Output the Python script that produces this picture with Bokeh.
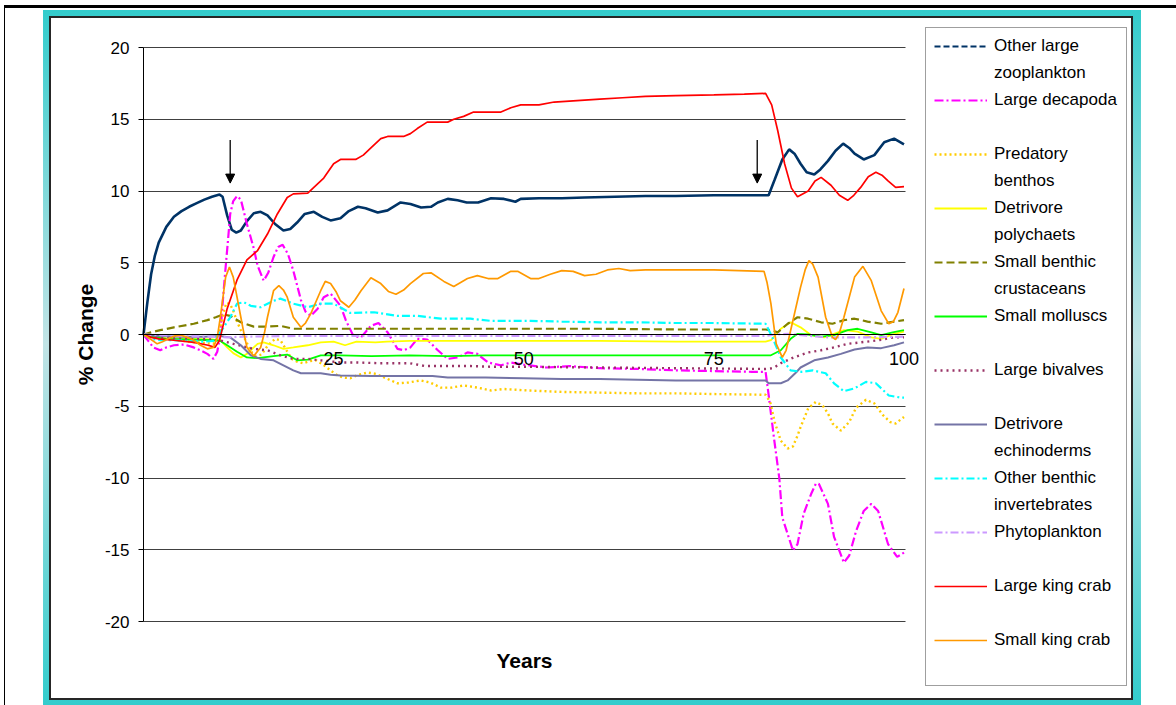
from bokeh.plotting import figure
from bokeh.models import (Range1d, LinearAxis, FixedTicker, Legend, LegendItem, Grid,
                          Arrow, NormalHead, InlineStyleSheet)
from bokeh.embed import file_html
from bokeh.resources import INLINE

# ---------------- data (years, % change) ----------------
zoo_years = [0, 0.5, 1, 1.5, 2, 3, 4, 5, 6, 7, 8, 9, 10, 10.4, 11, 11.6, 12.2, 12.8, 13.6, 14.5, 15.4, 16.3, 17.3, 18.4, 19.3, 20.2, 21.2, 22.4, 23.5, 24.6, 25.9, 27.0, 28.2, 29.2, 30.8, 32.1, 33.8, 35.1, 36.5, 37.8, 38.7, 40, 41.3, 42.5, 44, 45.7, 47.4, 48.9, 49.6, 52, 55, 58, 62, 66, 70, 75, 78, 82.2, 83, 84, 84.9, 85.6, 86.4, 87.2, 88.2, 89, 90, 91, 92, 92.8, 93.5, 94.7, 96.1, 97.4, 98.7, 100]
zoo_pct = [0, 2.2, 4.2, 5.5, 6.4, 7.5, 8.2, 8.6, 8.9, 9.15, 9.4, 9.6, 9.75, 9.6, 8.3, 7.3, 7.1, 7.25, 7.9, 8.45, 8.55, 8.3, 7.7, 7.25, 7.35, 7.8, 8.4, 8.55, 8.2, 7.95, 8.1, 8.6, 8.9, 8.8, 8.5, 8.65, 9.2, 9.1, 8.85, 8.9, 9.2, 9.45, 9.35, 9.2, 9.2, 9.5, 9.45, 9.25, 9.45, 9.5, 9.5, 9.55, 9.6, 9.65, 9.65, 9.7, 9.7, 9.7, 10.8, 12.2, 12.9, 12.6, 11.9, 11.3, 11.15, 11.5, 12.1, 12.8, 13.3, 13.0, 12.6, 12.2, 12.5, 13.4, 13.65, 13.25]

deca_years = [0, 0.7, 1.3, 2.2, 3, 4, 5.3, 6.6, 7.5, 8.4, 9.2, 9.7, 10.1, 10.5, 10.8, 11.1, 11.4, 11.8, 12.3, 12.8, 13.6, 14.5, 15, 15.8, 16.4, 17.1, 17.7, 18.3, 19, 19.7, 20.7, 21.3, 22, 22.9, 23.7, 24.6, 25.9, 26.6, 27.6, 28.6, 29.9, 30.9, 32.1, 33.4, 34.2, 35.1, 36, 37.3, 38.7, 40, 41.3, 42.6, 43.9, 45.3, 47, 48.3, 50, 53, 56, 60, 65, 70, 75, 80, 81.8, 82.2, 82.9, 83.6, 84, 84.7, 85.4, 86, 86.8, 87.8, 88.4, 88.8, 90, 90.8, 92.1, 92.8, 93.7, 94.7, 95.7, 96.6, 97.9, 99.1, 100]
deca_pct = [0, -0.5, -0.9, -1.1, -0.9, -0.75, -0.7, -0.9, -1.1, -1.35, -1.7, -1.2, 0, 2.8, 4.7, 6.5, 8.4, 9.3, 9.65, 9.4, 7.7, 6.0, 4.8, 3.75, 4.3, 5.4, 6.1, 6.25, 5.6, 4.45, 2.4, 1.6, 1.3, 1.8, 2.6, 2.85, 2.0, 1.0, -0.1, -0.2, 0.6, 0.8, 0.15, -1.0, -1.1, -0.9, -0.3, -0.35, -1.1, -1.7, -1.6, -1.25, -1.35, -1.95, -2.15, -1.95, -2.1, -2.3, -2.2, -2.35, -2.4, -2.5, -2.55, -2.6, -2.6, -4.2, -7.2, -10.0, -12.75, -13.9, -15.05, -14.6, -12.5, -11.1, -10.4, -10.4, -11.8, -14.1, -15.9, -15.4, -13.7, -12.3, -11.8, -12.3, -14.6, -15.5, -15.2]

pred_years = [0, 1, 3, 6, 9.2, 9.7, 10.1, 10.5, 10.9, 11.4, 11.8, 12.3, 12.8, 13.5, 14.3, 14.8, 15.5, 16.3, 17.3, 18, 18.8, 19.5, 20.2, 21, 21.9, 22.7, 23.6, 24.6, 25.5, 26.3, 27.2, 28.3, 29.5, 30.6, 32.1, 33.4, 34.8, 36.4, 37.7, 39.1, 40.5, 42.1, 43.9, 45.7, 47.4, 49, 50.5, 55, 60, 65, 70, 75, 81.8, 82.4, 83, 83.8, 84.7, 85.4, 86, 86.4, 87.4, 88.4, 89.3, 90, 90.6, 91.7, 92.8, 93.7, 95, 96.1, 97.2, 98.2, 98.9, 100]
pred_pct = [0, -0.15, -0.3, -0.5, -0.65, -0.3, 0.3, 1.5, 2.2, 2.1, 1.65, 0.9, 0.3, -0.5, -1.3, -1.5, -1.4, -0.8, -0.3, -0.4, -1.1, -1.7, -1.9, -2.0, -1.85, -1.8, -2.1, -2.5, -2.85, -3.0, -3.05, -2.8, -2.65, -2.75, -3.1, -3.4, -3.35, -3.2, -3.35, -3.7, -3.7, -3.55, -3.7, -3.9, -3.8, -3.85, -3.9, -4.0, -4.05, -4.1, -4.1, -4.15, -4.2, -4.7, -6.1, -7.4, -7.95, -7.8, -7.05, -6.45, -5.15, -4.7, -4.95, -5.5, -6.2, -6.7, -6.1, -5.1, -4.55, -4.8, -5.6, -6.1, -6.2, -5.75]

poly_years = [0, 1, 3, 6.2, 9.2, 10.1, 11, 11.8, 12.8, 13.6, 15, 15.8, 17.1, 18.4, 19.7, 21.6, 23.3, 25, 26.5, 28, 30.5, 32, 35, 40, 45, 50, 60, 70, 81.8, 82.5, 83.8, 85.1, 86.4, 87.8, 89.5, 90.8, 92.1, 93.9, 95.7, 97, 98.7, 100]
poly_pct = [0, -0.15, -0.25, -0.3, -0.35, -0.4, -0.9, -1.3, -1.6, -1.35, -0.65, -0.55, -0.75, -1.0, -0.9, -0.75, -0.55, -0.5, -0.75, -0.5, -0.55, -0.5, -0.45, -0.45, -0.45, -0.45, -0.45, -0.5, -0.5, -0.4, 0.4, 0.85, 0.5, -0.05, -0.2, 0.05, 0.3, 0.2, -0.2, -0.3, 0.05, 0.2]

crus_years = [0, 1, 2.2, 4, 6.6, 8.4, 9.5, 10.5, 11.4, 12.8, 14.5, 16.3, 18, 19.7, 22.4, 25.9, 30, 40, 50, 60, 70, 81.8, 82.5, 83.4, 84.7, 86, 87.4, 89.1, 90.6, 92.1, 93.5, 95.2, 97, 98.7, 100]
crus_pct = [0, 0.15, 0.3, 0.5, 0.75, 1.0, 1.2, 1.4, 1.3, 0.85, 0.55, 0.55, 0.6, 0.4, 0.4, 0.4, 0.4, 0.4, 0.4, 0.4, 0.35, 0.35, 0.3, 0.15, 0.75, 1.2, 1.1, 0.85, 0.75, 1.0, 1.1, 0.9, 0.75, 0.9, 1.0]

moll_years = [0, 1, 3, 6, 9.2, 10.1, 11, 12.3, 13.6, 15, 17.1, 18.9, 20.2, 21.6, 23.3, 25.9, 30, 35, 40, 45, 50, 60, 70, 81.8, 82.5, 83.8, 85.1, 86, 87.4, 89.1, 90.8, 92.6, 93.9, 95.7, 97, 98.5, 100]
moll_pct = [0, -0.15, -0.3, -0.35, -0.4, -0.45, -0.75, -1.2, -1.6, -1.65, -1.5, -1.4, -1.8, -1.75, -1.45, -1.45, -1.5, -1.45, -1.5, -1.45, -1.45, -1.45, -1.45, -1.45, -1.45, -1.1, -0.3, 0.05, 0.0, -0.15, -0.05, 0.3, 0.4, 0.15, -0.05, 0.15, 0.3]

biv_years = [0, 1, 3, 6, 9, 10, 11.8, 13.6, 14.5, 16.3, 18, 19.7, 21.6, 23.3, 25.9, 28, 31, 35, 37, 43, 46, 50, 60, 70, 81.8, 82.8, 83.8, 85.5, 87.4, 89.1, 90.8, 92.6, 94.3, 96.6, 98.7, 100]
biv_pct = [0, -0.15, -0.25, -0.3, -0.35, -0.4, -0.65, -0.9, -1.0, -1.1, -1.45, -1.7, -1.7, -1.8, -1.95, -1.95, -2.0, -2.0, -2.2, -2.2, -2.25, -2.25, -2.3, -2.35, -2.4, -2.35, -2.0, -1.6, -1.25, -1.1, -0.9, -0.65, -0.55, -0.4, -0.2, -0.2]

echi_years = [0, 2, 5, 8, 10, 11.4, 12.8, 14.1, 15.4, 17.1, 18.4, 19.7, 20.7, 23.3, 24.6, 25.9, 30, 35, 38, 40, 45, 50, 55, 60, 65, 70, 81.8, 82.2, 83.8, 84.7, 85.8, 86.4, 88.2, 90, 91.7, 93.5, 95.2, 97, 98.7, 100]
echi_pct = [0, -0.1, -0.15, -0.15, -0.1, -0.2, -0.75, -1.45, -1.7, -1.8, -2.15, -2.5, -2.7, -2.7, -2.8, -2.85, -2.9, -2.9, -2.9, -3.0, -3.0, -3.05, -3.1, -3.1, -3.15, -3.2, -3.2, -3.4, -3.4, -3.2, -2.65, -2.3, -1.8, -1.6, -1.35, -1.05, -0.9, -0.95, -0.75, -0.55]

inv_years = [0, 1, 2.2, 4, 6, 8, 9.2, 10.1, 11.4, 12.3, 13.2, 14.1, 15.4, 17.1, 18, 19.7, 21.6, 23.3, 25, 27.2, 30.3, 33.4, 36, 39.1, 43, 45.7, 50.9, 55, 60, 65, 70, 75, 81.8, 82.7, 83.8, 85.1, 86.5, 88, 89.7, 90.8, 92.1, 93.5, 95, 96.3, 98, 99.6, 100]
inv_pct = [0, -0.3, -0.4, -0.4, -0.45, -0.5, -0.45, 0.15, 1.2, 2.15, 2.25, 2.0, 1.9, 2.35, 2.5, 2.15, 1.9, 2.15, 2.15, 1.5, 1.55, 1.3, 1.3, 1.1, 1.1, 0.95, 0.95, 0.9, 0.85, 0.85, 0.8, 0.8, 0.75, -0.2, -1.6, -2.5, -2.6, -2.5, -2.7, -3.4, -3.95, -3.75, -3.3, -3.4, -4.25, -4.4, -4.4]

phyto_years = [0, 2, 5, 9, 11, 13, 20, 30, 50, 70, 81.8, 83, 85, 87.5, 90, 95, 100]
phyto_pct = [0, -0.05, -0.1, -0.15, -0.2, -0.15, -0.1, -0.1, -0.1, -0.1, -0.1, 0.0, 0.05, -0.1, -0.2, -0.2, -0.15]

lkc_years = [0, 1, 2, 4, 6.6, 8.5, 9.4, 10, 11, 12.3, 13.6, 15, 16.3, 17.6, 18.9, 19.7, 21.6, 22.4, 23.7, 25, 25.9, 27.9, 28.9, 29.9, 31.2, 32.1, 34.2, 35.1, 36, 37.3, 40, 40.8, 42.1, 43.4, 47, 48.3, 49.6, 52, 54, 57, 60, 63, 66, 70, 75, 79, 81.8, 82.6, 83.4, 84.3, 85.2, 86, 87.4, 88.3, 89.1, 90.4, 91.5, 92.6, 93.4, 94.3, 95.3, 96.3, 97.1, 97.9, 98.9, 100]
lkc_pct = [0, -0.2, -0.3, -0.4, -0.55, -0.75, -0.9, -0.4, 1.8, 3.8, 5.2, 5.85, 7.0, 8.4, 9.55, 9.8, 9.85, 10.25, 10.9, 11.9, 12.2, 12.2, 12.5, 13.0, 13.65, 13.8, 13.8, 14.0, 14.35, 14.8, 14.8, 15.0, 15.2, 15.5, 15.5, 15.8, 16.0, 16.0, 16.2, 16.3, 16.4, 16.5, 16.6, 16.65, 16.7, 16.75, 16.8, 16.0, 14.2, 11.9, 10.2, 9.6, 10.0, 10.7, 10.95, 10.4, 9.7, 9.35, 9.7, 10.25, 11.0, 11.3, 11.1, 10.7, 10.25, 10.3]

skc_years = [0, 1, 1.8, 2.5, 3.2, 4.1, 4.9, 5.8, 6.6, 7.5, 8.4, 9.2, 9.7, 10.1, 10.5, 10.8, 11.3, 11.8, 12.3, 12.8, 13.2, 13.6, 14.5, 15.4, 15.9, 16.3, 17.1, 17.8, 18.4, 18.9, 19.7, 20.7, 21.3, 22, 23.3, 23.9, 24.6, 25.3, 25.9, 27, 27.8, 28.6, 29.9, 31.2, 32.2, 33.2, 34.2, 35.1, 36.8, 37.8, 39.5, 40.8, 42.6, 43.9, 45.3, 46.6, 48.3, 49.2, 50.9, 52, 53.5, 55, 56.5, 58, 59.5, 61, 62.5, 64, 66, 70, 75, 81.6, 82, 82.5, 83.2, 84, 84.5, 85.1, 86.4, 87, 87.5, 88, 88.7, 89.7, 90.6, 91, 91.5, 92.1, 93.5, 94.6, 95.7, 97, 98, 98.6, 99.2, 100]
skc_pct = [0, -0.35, -0.65, -0.5, -0.3, -0.1, -0.05, -0.2, -0.4, -0.75, -1.0, -0.9, -0.2, 1.2, 2.8, 4.0, 4.7, 4.0, 2.6, 1.2, 0.1, -0.9, -1.5, -0.9, 0.1, 1.2, 3.05, 3.4, 3.1, 2.6, 1.2, 0.5, 0.8, 1.45, 3.05, 3.7, 3.55, 3.0, 2.35, 1.9, 2.4, 3.05, 3.95, 3.55, 3.0, 2.8, 3.1, 3.55, 4.25, 4.3, 3.7, 3.35, 3.9, 4.1, 3.9, 3.9, 4.4, 4.4, 3.9, 3.9, 4.2, 4.45, 4.4, 4.1, 4.2, 4.5, 4.6, 4.45, 4.5, 4.5, 4.5, 4.4, 3.6, 2.15, -0.65, -1.6, -1.1, 0.3, 3.3, 4.5, 5.15, 4.9, 4.0, 1.2, -0.2, -0.35, 0.1, 1.2, 4.0, 4.75, 3.75, 1.65, 0.75, 0.9, 1.55, 3.2]

# legend rows (first line, second line) in the picture's order
legend_rows = [("Other large", "zooplankton"), ("Large decapoda", ""), ("Predatory", "benthos"),
               ("Detrivore", "polychaets"), ("Small benthic", "crustaceans"), ("Small molluscs", ""),
               ("Large bivalves", ""), ("Detrivore", "echinoderms"), ("Other benthic", "invertebrates"),
               ("Phytoplankton", ""), ("Large king crab", ""), ("Small king crab", "")]

y_ticks = [-20, -15, -10, -5, 0, 5, 10, 15, 20]
x_ticks = [25, 50, 75, 100]
arrow_years = [11.4, 80.7]
arrow_from, arrow_to = 13.55, 10.55

FONT = "Liberation Sans"

# ---------------- layout geometry (pixels) ----------------
W, H = 1176, 705
PANEL_L, PANEL_R, PANEL_T, PANEL_B = 51, 1131, 18, 698   # white inner panel = plot frame
AX_X0, AX_X100 = 143, 903.5                             # x pixel of year 0 / year 100
AX_Y20, AX_YM20 = 47, 621                               # y pixel of +20 / -20
ppx = (AX_X100 - AX_X0) / 100.0
ppy = (AX_YM20 - AX_Y20) / 40.0
x_lo = -(AX_X0 - PANEL_L) / ppx
x_hi = x_lo + (PANEL_R - PANEL_L) / ppx
y_hi = 20 + (AX_Y20 - PANEL_T) / ppy
y_lo = y_hi - (PANEL_B - PANEL_T) / ppy
X_END = 100.2

p = figure(width=W, height=H, output_backend="svg", toolbar_location=None,
           title=None, x_range=Range1d(x_lo, x_hi), y_range=Range1d(y_lo, y_hi),
           x_axis_type=None, y_axis_type=None,
           min_border_left=PANEL_L, min_border_right=W - PANEL_R,
           min_border_top=PANEL_T, min_border_bottom=H - PANEL_B)
p.border_fill_color = None
p.background_fill_color = None
p.outline_line_color = None

css = """
:host {
  background:
    linear-gradient(#ffffff, #ffffff) 51px 18px / 1080px 680px no-repeat,
    linear-gradient(#262626, #262626) 49px 16px / 1084px 684px no-repeat,
    linear-gradient(to bottom, #33cccc 0%, #c2e4e6 48%, #33cccc 100%) 43px 10px / 1098px 695px no-repeat,
    linear-gradient(#000000, #000000) 5px 5px / 1171px 3px no-repeat,
    linear-gradient(#000000, #000000) 4px 5px / 1px 700px no-repeat,
    #ffffff;
}
"""
p.stylesheets = [InlineStyleSheet(css=css)]

# horizontal gridlines only across the chart area
grid = Grid(dimension=1, ticker=FixedTicker(ticks=y_ticks), bounds=(-20, 20),
            cross_bounds=(0, X_END), grid_line_color="#404040", grid_line_width=1)
p.add_layout(grid)

# y axis (value axis at year 0)
ya = LinearAxis(fixed_location=0, bounds=(-20, 20), ticker=FixedTicker(ticks=y_ticks))
ya.major_label_overrides = {t: str(t) for t in y_ticks}
ya.minor_tick_line_color = None
ya.major_tick_in = 0
ya.major_tick_out = 5
ya.major_label_standoff = 9
ya.axis_line_color = "black"
ya.major_tick_line_color = "black"
ya.major_label_text_font = FONT
ya.major_label_text_font_size = "17px"
ya.major_label_text_color = "black"
ya.axis_label = "% Change"
ya.axis_label_text_font = FONT
ya.axis_label_text_font_style = "bold"
ya.axis_label_text_font_size = "21px"
ya.axis_label_text_color = "black"
ya.axis_label_standoff = 5
p.add_layout(ya, "left")

# x axis crossing at zero
x0 = LinearAxis(fixed_location=0, bounds=(0, X_END), ticker=FixedTicker(ticks=x_ticks))
x0.minor_tick_line_color = None
x0.major_tick_line_color = None
x0.major_tick_in = 0
x0.major_tick_out = 0
x0.major_label_standoff = 17
x0.axis_line_color = "black"
x0.major_label_text_font = FONT
x0.major_label_text_font_size = "18px"
x0.major_label_text_color = "black"
p.add_layout(x0, "below")

# axis title "Years" under the chart
xb = LinearAxis(fixed_location=-20, bounds=(0, X_END), ticker=FixedTicker(ticks=[]), axis_label="Years")
xb.axis_line_color = None
xb.major_tick_line_color = None
xb.minor_tick_line_color = None
xb.major_tick_in = 0
xb.major_tick_out = 0
xb.major_label_text_font_size = "0px"
xb.axis_label_text_font = FONT
xb.axis_label_text_font_style = "bold"
xb.axis_label_text_font_size = "21px"
xb.axis_label_text_color = "black"
xb.axis_label_standoff = 27
p.add_layout(xb, "below")

series = [
    (zoo_years, zoo_pct, "#003366", 2.6, "solid"),
    (deca_years, deca_pct, "#FF00FF", 2.2, "9 3 2 3"),
    (pred_years, pred_pct, "#FFCC00", 2.4, "2 3"),
    (poly_years, poly_pct, "#FFFF00", 1.8, "solid"),
    (crus_years, crus_pct, "#808000", 2.2, "8 4"),
    (moll_years, moll_pct, "#00FF00", 1.8, "solid"),
    (biv_years, biv_pct, "#993366", 2.4, "2 4"),
    (echi_years, echi_pct, "#7474A6", 2.0, "solid"),
    (inv_years, inv_pct, "#00FFFF", 2.2, "8 3 2 3"),
    (phyto_years, phyto_pct, "#CC99FF", 2.2, "8 3 2 3"),
    (lkc_years, lkc_pct, "#FF0000", 1.7, "solid"),
    (skc_years, skc_pct, "#FF9900", 1.7, "solid"),
]
legend_styles = ["6 3", None, None, None, None, None, None, None, None, None, None, None]

blank = p.line(x=[0], y=[0], line_alpha=0)
items = []
for (xs, ys, col, w, dash), (l1, l2), ldash in zip(series, legend_rows, legend_styles):
    r = p.line(x=xs, y=ys, line_color=col, line_width=w, line_dash=dash)
    if ldash is not None:
        # one-point proxy: draws nothing in the chart, gives the dashed legend sample
        r = p.line(x=xs[:1], y=ys[:1], line_color=col, line_width=2.2, line_dash=ldash)
    items.append(LegendItem(label=l1, renderers=[r]))
    items.append(LegendItem(label=l2 if l2 else " ", renderers=[blank]))

for ax in arrow_years:
    p.add_layout(Arrow(end=NormalHead(size=9, fill_color="black", line_color="black", line_width=1),
                       x_start=ax, y_start=arrow_from, x_end=ax, y_end=arrow_to,
                       line_color="black", line_width=1.3))

LEG_L, LEG_T = 925, 29
legend = Legend(items=items, orientation="vertical",
                label_text_font=FONT, label_text_font_size="17px", label_text_color="black",
                glyph_width=53, glyph_height=20, label_height=20, label_width=124,
                spacing=7, padding=8, margin=0, label_standoff=7,
                border_line_color="#404040", border_line_width=1,
                background_fill_color="white", background_fill_alpha=1)
leg_h = 2 * 8 + len(items) * 20 + (len(items) - 1) * 7
legend.location = (LEG_L - PANEL_L, PANEL_B - (LEG_T + leg_h))
p.add_layout(legend)

open("out.html", "w").write(file_html(p, INLINE))
